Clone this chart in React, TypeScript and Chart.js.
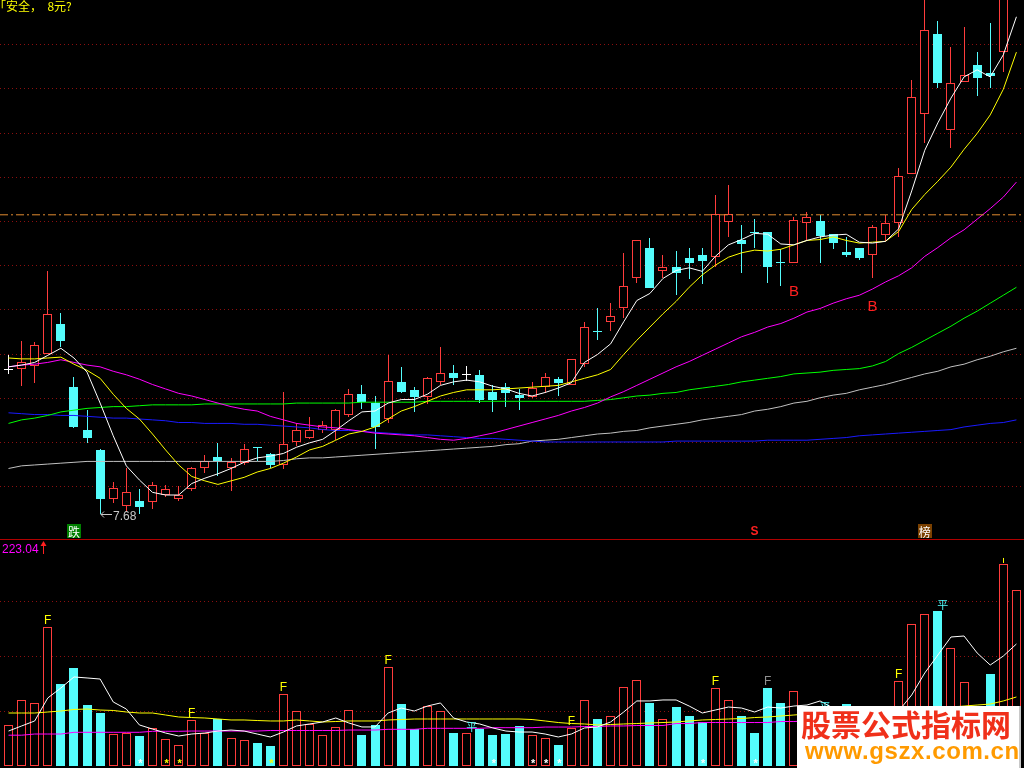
import React, { useEffect, useRef } from "react";
import { Chart, registerables } from "chart.js";

Chart.register(...registerables);

// ---------------- data ----------------
const opens = [
  9.31, 9.33, 9.36, 9.50, 9.83, 9.12, 8.63, 8.41, 7.85, 7.77,
  7.83, 7.82, 7.90, 7.85, 7.97, 8.21, 8.33, 8.21, 8.26, 8.44,
  8.36, 8.24, 8.50, 8.55, 8.64, 8.64, 8.80, 9.04, 8.94, 8.76,
  9.18, 9.09, 9.01, 9.18, 9.28, 9.26, 9.26, 9.07, 9.12, 9.03,
  9.01, 9.12, 9.21, 9.15, 9.38, 9.75, 9.86, 10.01, 10.35, 10.69,
  10.43, 10.48, 10.58, 10.62, 10.59, 10.99, 10.79, 10.88, 10.87, 10.53,
  10.53, 10.98, 11.00, 10.85, 10.65, 10.69, 10.62, 10.84, 10.98, 11.53,
  12.21, 13.11, 12.03, 12.57, 12.76, 12.67, 12.91, 14.30,
];
const highs = [
  9.48, 9.64, 9.63, 10.43, 9.96, 9.23, 8.86, 8.42, 8.05, 8.20,
  7.97, 8.05, 8.01, 8.00, 8.22, 8.35, 8.49, 8.32, 8.48, 8.44,
  8.38, 9.07, 8.71, 8.78, 8.74, 8.87, 9.10, 9.14, 9.02, 9.48,
  9.35, 9.12, 9.24, 9.57, 9.37, 9.36, 9.31, 9.14, 9.17, 9.10,
  9.18, 9.28, 9.23, 9.44, 9.86, 10.01, 10.07, 10.64, 10.78, 10.81,
  10.61, 10.66, 10.69, 10.69, 11.29, 11.41, 10.95, 11.02, 10.88, 10.68,
  11.04, 11.10, 11.07, 10.85, 10.82, 10.69, 10.96, 11.07, 11.60, 12.60,
  13.60, 13.26, 12.97, 13.20, 12.91, 13.24, 13.90, 15.20,
];
const lows = [
  9.27, 9.13, 9.17, 9.49, 9.57, 8.66, 8.49, 7.68, 7.81, 7.71,
  7.69, 7.74, 7.88, 7.83, 7.94, 8.15, 8.12, 7.94, 8.24, 8.28,
  8.21, 8.19, 8.46, 8.53, 8.60, 8.52, 8.78, 8.87, 8.42, 8.71,
  9.05, 8.84, 8.93, 9.15, 9.14, 9.19, 8.94, 8.84, 8.90, 8.86,
  9.00, 9.05, 9.02, 9.14, 9.35, 9.65, 9.76, 9.90, 10.30, 10.24,
  10.35, 10.16, 10.34, 10.29, 10.48, 10.82, 10.41, 10.70, 10.30, 10.26,
  10.53, 10.78, 10.52, 10.68, 10.59, 10.56, 10.36, 10.77, 10.82, 11.53,
  11.88, 12.51, 11.83, 12.57, 12.41, 12.51, 12.69, 13.95,
];
const closes = [
  9.31, 9.41, 9.60, 9.95, 9.64, 8.67, 8.55, 7.85, 7.98, 7.93,
  7.76, 8.01, 7.97, 7.90, 8.21, 8.29, 8.28, 8.27, 8.42, 8.43,
  8.24, 8.48, 8.63, 8.64, 8.69, 8.86, 9.04, 8.95, 8.67, 9.19,
  9.06, 9.01, 9.22, 9.28, 9.22, 9.26, 8.98, 8.98, 9.05, 9.00,
  9.11, 9.23, 9.17, 9.44, 9.80, 9.74, 9.92, 10.27, 10.78, 10.24,
  10.48, 10.41, 10.52, 10.55, 11.08, 11.08, 10.74, 10.86, 10.48, 10.52,
  11.01, 11.04, 10.83, 10.75, 10.62, 10.58, 10.93, 10.98, 11.51, 12.40,
  13.16, 12.56, 12.56, 12.65, 12.62, 12.64, 13.90, 14.74,
];
const ma5 = [
  9.35, 9.37, 9.40, 9.48, 9.56, 9.45, 9.29, 8.94, 8.57, 8.23,
  8.07, 7.93, 7.90, 7.90, 8.03, 8.09, 8.14, 8.20, 8.27, 8.32,
  8.34, 8.37, 8.44, 8.49, 8.53, 8.63, 8.74, 8.84, 8.85, 8.94,
  8.98, 8.98, 9.04, 9.14, 9.18, 9.20, 9.18, 9.13, 9.10, 9.05,
  9.02, 9.06, 9.11, 9.17, 9.40, 9.49, 9.61, 9.86, 10.10, 10.18,
  10.35, 10.44, 10.47, 10.43, 10.60, 10.73, 10.79, 10.86, 10.85, 10.74,
  10.73, 10.78, 10.82, 10.84, 10.85, 10.76, 10.75, 10.77, 10.91, 11.34,
  11.80, 12.11, 12.39, 12.63, 12.71, 12.63, 12.88, 13.31,
];
const ma10 = [
  9.45, 9.44, 9.44, 9.45, 9.46, 9.38, 9.31, 9.22, 9.04, 8.88,
  8.76, 8.59, 8.41, 8.24, 8.11, 8.06, 8.02, 8.06, 8.10, 8.16,
  8.20, 8.26, 8.33, 8.41, 8.45, 8.52, 8.59, 8.62, 8.67, 8.76,
  8.85, 8.90, 8.96, 9.02, 9.06, 9.09, 9.09, 9.09, 9.10, 9.11,
  9.12, 9.13, 9.14, 9.18, 9.22, 9.26, 9.32, 9.49, 9.65, 9.80,
  9.95, 10.09, 10.25, 10.39, 10.50, 10.59, 10.64, 10.67, 10.66, 10.68,
  10.73, 10.78, 10.79, 10.82, 10.78, 10.75, 10.76, 10.77, 10.88, 11.13,
  11.30, 11.45, 11.61, 11.81, 11.99, 12.20, 12.49, 12.91,
];
const ma20 = [
  9.35, 9.37, 9.38, 9.40, 9.43, 9.40, 9.37, 9.35, 9.30, 9.26,
  9.21, 9.15, 9.10, 9.05, 9.02, 8.98, 8.94, 8.90, 8.87, 8.85,
  8.79, 8.75, 8.71, 8.69, 8.67, 8.66, 8.64, 8.62, 8.60, 8.59,
  8.58, 8.57, 8.55, 8.53, 8.52, 8.54, 8.57, 8.60, 8.64, 8.68,
  8.72, 8.76, 8.80, 8.85, 8.89, 8.94, 9.01, 9.07, 9.14, 9.21,
  9.28, 9.35, 9.41, 9.48, 9.55, 9.62, 9.69, 9.74, 9.80, 9.84,
  9.90, 9.97, 10.01, 10.07, 10.12, 10.16, 10.23, 10.31, 10.38, 10.47,
  10.60, 10.70, 10.81, 10.90, 11.02, 11.14, 11.27, 11.44,
];
const ma60 = [
  8.71, 8.75, 8.77, 8.80, 8.84, 8.86, 8.88, 8.89, 8.90, 8.90,
  8.91, 8.92, 8.92, 8.92, 8.92, 8.93, 8.93, 8.93, 8.93, 8.93,
  8.93, 8.93, 8.94, 8.94, 8.94, 8.94, 8.94, 8.95, 8.95, 8.95,
  8.95, 8.95, 8.96, 8.96, 8.96, 8.96, 8.96, 8.96, 8.96, 8.96,
  8.96, 8.96, 8.96, 8.96, 8.96, 8.97, 8.98, 9.00, 9.02, 9.03,
  9.05, 9.06, 9.09, 9.11, 9.13, 9.15, 9.18, 9.20, 9.22, 9.24,
  9.27, 9.28, 9.29, 9.31, 9.32, 9.33, 9.36, 9.41, 9.50, 9.57,
  9.65, 9.73, 9.81, 9.90, 9.98, 10.07, 10.16, 10.25,
];
const maBlue = [
  8.83, 8.82, 8.81, 8.81, 8.80, 8.80, 8.79, 8.78, 8.77, 8.77,
  8.76, 8.75, 8.74, 8.72, 8.72, 8.71, 8.71, 8.71, 8.70, 8.70,
  8.69, 8.68, 8.67, 8.66, 8.64, 8.63, 8.63, 8.62, 8.61, 8.60,
  8.59, 8.58, 8.58, 8.57, 8.56, 8.55, 8.54, 8.54, 8.53, 8.52,
  8.51, 8.50, 8.50, 8.50, 8.50, 8.50, 8.50, 8.50, 8.50, 8.50,
  8.50, 8.51, 8.51, 8.51, 8.51, 8.51, 8.51, 8.51, 8.52, 8.52,
  8.52, 8.52, 8.53, 8.54, 8.55, 8.57, 8.58, 8.59, 8.60, 8.61,
  8.62, 8.63, 8.64, 8.67, 8.69, 8.71, 8.72, 8.75,
];
const maGray = [
  8.20, 8.23, 8.24, 8.25, 8.26, 8.27, 8.28, 8.28, 8.28, 8.28,
  8.28, 8.28, 8.28, 8.28, 8.28, 8.28, 8.28, 8.28, 8.28, 8.28,
  8.28, 8.29, 8.31, 8.32, 8.32, 8.33, 8.34, 8.35, 8.36, 8.37,
  8.38, 8.39, 8.40, 8.41, 8.42, 8.43, 8.44, 8.45, 8.47, 8.48,
  8.51, 8.52, 8.53, 8.55, 8.57, 8.59, 8.60, 8.62, 8.63, 8.66,
  8.68, 8.70, 8.72, 8.75, 8.77, 8.79, 8.81, 8.85, 8.87, 8.90,
  8.94, 8.96, 9.00, 9.03, 9.05, 9.09, 9.12, 9.15, 9.19, 9.23,
  9.27, 9.30, 9.35, 9.38, 9.43, 9.47, 9.52, 9.56,
];
const volumes = [
  44.9, 72.5, 69.2, 153.5, 90.5, 108.2, 67.3, 58.5, 35.3, 36.1,
  33.1, 41.6, 29.5, 22.9, 50.8, 36.1, 52.2, 30.6, 28.4, 25.4,
  22.1, 79.5, 60.4, 46.4, 33.9, 42.8, 61.5, 34.2, 45.3, 109.0,
  68.4, 40.8, 66.2, 60.4, 36.4, 36.1, 40.8, 34.2, 35.7, 44.2,
  33.9, 30.6, 23.2, 42.3, 72.5, 51.9, 54.9, 86.9, 94.6, 69.6,
  51.6, 65.1, 55.2, 48.6, 85.8, 72.5, 55.2, 36.4, 86.1, 69.6,
  82.5, 62.0, 59.0, 45.0, 68.0, 47.0, 65.0, 30.0, 93.8, 156.4,
  167.8, 171.5, 130.3, 92.7, 62.0, 101.9, 223.04, 194.3,
];
const volMa5 = [
  38.6, 44.2, 49.7, 75.1, 86.1, 98.3, 97.2, 96.0, 70.7, 62.9,
  45.3, 40.8, 36.4, 33.1, 35.3, 36.4, 38.6, 39.7, 38.6, 35.3,
  32.0, 37.5, 44.2, 46.4, 48.6, 53.0, 47.5, 43.1, 43.1, 58.5,
  64.0, 60.7, 66.2, 69.6, 53.0, 48.6, 46.4, 42.0, 38.6, 37.5,
  37.5, 35.3, 32.0, 35.3, 42.0, 43.1, 48.6, 59.6, 71.8, 71.8,
  72.9, 72.9, 66.2, 58.5, 61.8, 65.1, 64.0, 59.6, 65.1, 64.0,
  66.2, 67.3, 71.8, 64.0, 62.9, 56.3, 57.4, 50.8, 60.7, 78.4,
  102.7, 122.5, 142.4, 143.5, 124.8, 111.5, 121.4, 134.7,
];
const volMaYellow = [
  58.5, 58.5, 58.5, 59.6, 60.7, 62.4, 62.9, 61.8, 61.3, 59.6,
  58.5, 58.5, 56.3, 54.1, 53.5, 53.0, 51.9, 50.8, 50.8, 50.2,
  49.7, 49.7, 50.8, 49.7, 48.6, 49.1, 49.7, 49.7, 49.7, 50.8,
  51.3, 51.9, 51.9, 51.9, 51.9, 51.9, 51.9, 51.9, 51.9, 51.9,
  51.3, 49.7, 48.0, 46.9, 46.4, 45.3, 45.8, 46.4, 46.9, 47.5,
  48.0, 48.6, 49.7, 50.8, 51.3, 51.9, 52.4, 53.5, 54.1, 55.2,
  56.3, 57.4, 58.5, 59.6, 59.6, 60.7, 60.7, 61.8, 61.8, 62.9,
  64.0, 64.0, 65.1, 66.2, 67.3, 68.4, 71.8, 76.2,
];
const volMaMagenta = [
  34.0, 34.0, 35.3, 35.3, 35.3, 37.2, 37.2, 37.2, 37.2, 37.2,
  37.2, 38.3, 38.3, 38.3, 38.6, 38.6, 38.6, 38.6, 38.6, 38.6,
  39.2, 39.2, 39.2, 39.2, 39.2, 39.2, 39.7, 39.7, 39.7, 40.5,
  40.5, 40.5, 41.6, 41.6, 41.6, 41.6, 41.6, 42.3, 42.3, 42.3,
  42.3, 43.0, 43.0, 43.0, 43.6, 43.6, 44.2, 44.2, 44.7, 44.7,
  44.7, 46.9, 46.9, 48.0, 48.0, 48.0, 48.0, 48.0, 48.0, 49.1,
  49.1, 49.7, 50.2, 50.2, 50.8, 50.8, 51.3, 51.9, 52.4, 52.4,
  53.0, 53.5, 53.5, 54.1, 54.1, 54.6, 55.2, 55.2,
];
const priceGridTicks = [8, 8.5, 9, 9.5, 10, 10.5, 11, 11.5, 12, 12.5, 13];
const volumeGridTicks = [60.7, 121.4, 182.2];
const levelLine = 11.07;
const titleText = "｢安全，\u00a0\u00a08元?";
const lowestIndex = 7;
const volumeMaxLabel = "223.04";
const buySignals = [60, 66];
const fSignals = [3, 14, 21, 29, 43, 54, 68];
const fGraySignals = [58];
const flatSignals = [35, 62, 71];
const whiteStars = [10, 37, 40, 41, 42, 53, 57];
const yellowStars = [12, 13, 20];
const peakTicks = [76];
const bottomTags = [
  { index: 5, text: "跌", bg: "#008000", color: "#ffffff" },
  { index: 57, text: "S", bg: "", color: "#ff2020" },
  { index: 70, text: "榜", bg: "#7a4000", color: "#ffffff" },
];

// ---------------- styling / layout constants ----------------
const RED = "#ff3c3c";
const CYAN = "#54fcfc";
const WHITE = "#ffffff";
const GRID = "#8c0f0f";
const SEP = "#b00000";
const X_MIN = -0.65;
const X_MAX = 77.58;
const PRICE_MIN = 7.391;
const PRICE_MAX = 13.5;
const VOL_MIN = -2.21;
const VOL_MAX = 249.5;

const dayIndex = opens.map((_, i) => i);
const candleColor = (i: number) =>
  closes[i] > opens[i] ? RED : closes[i] < opens[i] ? CYAN : WHITE;
const isUp = (i: number) => closes[i] > opens[i];
const volColor = (i: number) => (closes[i] >= opens[i] ? RED : CYAN);

const pts = (arr: number[]) => dayIndex.map((i) => ({ x: i, y: arr[i] }));
const lineDs = (label: string, arr: number[], color: string) => ({
  type: "line" as const,
  label,
  data: pts(arr),
  borderColor: color,
  borderWidth: 1,
  pointRadius: 0,
  tension: 0,
  order: 1,
});

const baseOptions = (yMin: number, yMax: number) => ({
  responsive: false,
  animation: false as const,
  devicePixelRatio: 1,
  events: [] as any[],
  layout: { padding: 0 },
  plugins: { legend: { display: false }, tooltip: { enabled: false } },
  scales: {
    x: { type: "linear" as const, min: X_MIN, max: X_MAX, display: false, offset: false },
    y: { type: "linear" as const, min: yMin, max: yMax, display: false },
  },
});

// snap bar elements (positions computed by the scales) to whole pixels
const snapBars = (chart: any) => {
  chart.data.datasets.forEach((ds: any, di: number) => {
    if (ds.type !== "bar") return;
    const meta = chart.getDatasetMeta(di);
    meta.data.forEach((el: any) => {
      el.x = Math.floor(el.x) + 0.5;
      let y = Math.round(el.y);
      let base = Math.round(el.base);
      if (Math.abs(y - base) < 1) base = y + 1;
      el.y = y;
      el.base = base;
    });
  });
};

const drawGrid = (chart: any, ticks: number[]) => {
  const { ctx, chartArea, scales } = chart;
  ctx.save();
  ctx.strokeStyle = GRID;
  ctx.lineWidth = 1;
  ctx.setLineDash([1, 3]);
  ticks.forEach((t) => {
    const y = Math.round(scales.y.getPixelForValue(t)) + 0.5;
    ctx.beginPath();
    ctx.moveTo(chartArea.left, y);
    ctx.lineTo(chartArea.right, y);
    ctx.stroke();
  });
  ctx.restore();
};

const priceDecor = {
  id: "priceDecor",
  beforeDatasetsDraw(chart: any) {
    snapBars(chart);
    drawGrid(chart, priceGridTicks);
  },
  afterDatasetsDraw(chart: any) {
    const { ctx, chartArea, scales } = chart;
    const xs = scales.x;
    const ys = scales.y;
    ctx.save();
    // buy signals
    ctx.font = '15px "Liberation Sans"';
    ctx.fillStyle = "#ff2020";
    ctx.textAlign = "center";
    ctx.textBaseline = "alphabetic";
    buySignals.forEach((i) =>
      ctx.fillText("B", xs.getPixelForValue(i), ys.getPixelForValue(lows[i]) + 33)
    );
    // lowest price label
    const lx = Math.round(xs.getPixelForValue(lowestIndex));
    const ly = Math.round(ys.getPixelForValue(lows[lowestIndex])) + 0.5;
    ctx.strokeStyle = "#c8c8c8";
    ctx.lineWidth = 1;
    ctx.beginPath();
    ctx.moveTo(lx + 1, ly);
    ctx.lineTo(lx + 12, ly);
    ctx.moveTo(lx + 1, ly);
    ctx.lineTo(lx + 4, ly - 3);
    ctx.moveTo(lx + 1, ly);
    ctx.lineTo(lx + 4, ly + 3);
    ctx.stroke();
    ctx.fillStyle = "#c8c8c8";
    ctx.font = '12px "Liberation Sans"';
    ctx.textAlign = "left";
    ctx.fillText(lows[lowestIndex].toFixed(2), lx + 13, ly + 5);
    // bottom tags
    bottomTags.forEach((tag) => {
      const x = xs.getPixelForValue(tag.index);
      const bottom = chartArea.bottom - 2;
      if (tag.bg) {
        ctx.fillStyle = tag.bg;
        ctx.fillRect(Math.round(x - 7), bottom - 14, 14, 14);
      }
      ctx.fillStyle = tag.color;
      ctx.font = tag.bg ? '12px "Noto Sans CJK SC"' : 'bold 12px "Liberation Sans"';
      ctx.textAlign = "center";
      ctx.textBaseline = "middle";
      ctx.fillText(tag.text, x, bottom - 6);
    });
    // separator
    ctx.fillStyle = SEP;
    ctx.fillRect(chartArea.left, chartArea.bottom - 1, chartArea.right - chartArea.left, 1);
    ctx.restore();
  },
};

const volumeDecor = {
  id: "volumeDecor",
  beforeDatasetsDraw(chart: any) {
    snapBars(chart);
    drawGrid(chart, volumeGridTicks);
  },
  afterDatasetsDraw(chart: any) {
    const { ctx, chartArea, scales } = chart;
    const xs = scales.x;
    const ys = scales.y;
    ctx.save();
    // max label
    ctx.font = '12px "Liberation Sans"';
    ctx.fillStyle = "#ff00ff";
    ctx.textAlign = "left";
    ctx.textBaseline = "alphabetic";
    ctx.fillText(volumeMaxLabel, 2, 13);
    ctx.strokeStyle = "#ff2020";
    ctx.fillStyle = "#ff2020";
    ctx.lineWidth = 1;
    ctx.beginPath();
    ctx.moveTo(43.5, 3);
    ctx.lineTo(43.5, 14);
    ctx.stroke();
    ctx.beginPath();
    ctx.moveTo(43.5, 1);
    ctx.lineTo(46.5, 6);
    ctx.lineTo(40.5, 6);
    ctx.closePath();
    ctx.fill();
    // F signals
    ctx.font = '12px "Liberation Sans"';
    ctx.textAlign = "center";
    const drawF = (i: number, color: string) => {
      ctx.fillStyle = color;
      ctx.fillText("F", xs.getPixelForValue(i), ys.getPixelForValue(volumes[i]) - 3);
    };
    fSignals.forEach((i) => drawF(i, "#ffff00"));
    fGraySignals.forEach((i) => drawF(i, "#909090"));
    // flat signals
    ctx.font = '11px "Noto Sans CJK SC"';
    ctx.fillStyle = CYAN;
    flatSignals.forEach((i) =>
      ctx.fillText("平", xs.getPixelForValue(i) + 5, ys.getPixelForValue(volumes[i]) - 2)
    );
    // stars
    ctx.font = 'bold 11px "Liberation Sans"';
    const drawStar = (i: number, color: string) => {
      ctx.fillStyle = color;
      ctx.fillText("*", xs.getPixelForValue(i) + 1, chartArea.bottom - 1);
    };
    whiteStars.forEach((i) => drawStar(i, "#ffffff"));
    yellowStars.forEach((i) => drawStar(i, "#ffff00"));
    // peak tick
    ctx.strokeStyle = "#ffff00";
    peakTicks.forEach((i) => {
      const x = Math.round(xs.getPixelForValue(i)) + 0.5;
      const y = ys.getPixelForValue(volumes[i]);
      ctx.beginPath();
      ctx.moveTo(x, y - 6);
      ctx.lineTo(x, y - 1);
      ctx.stroke();
    });
    ctx.restore();
  },
};

const priceConfig = (): any => ({
  type: "bar",
  data: {
    datasets: [
      lineDs("MA5", ma5, "#ffffff"),
      lineDs("MA10", ma10, "#ffff00"),
      lineDs("MA20", ma20, "#ff00ff"),
      lineDs("MA60", ma60, "#00ff00"),
      lineDs("MA-blue", maBlue, "#1a1aff"),
      lineDs("MA-gray", maGray, "#c0c0c0"),
      {
        type: "line",
        label: "level",
        data: [
          { x: X_MIN, y: levelLine },
          { x: X_MAX, y: levelLine },
        ],
        borderColor: "#e08a30",
        borderWidth: 1,
        borderDash: [8, 3, 2, 3],
        pointRadius: 0,
        order: 0,
      },
      {
        type: "bar",
        label: "body",
        data: dayIndex.map((i) => ({ x: i, y: [opens[i], closes[i]] })),
        barThickness: 9,
        minBarLength: 1,
        grouped: false,
        borderSkipped: false,
        inflateAmount: 0,
        backgroundColor: (c: any) => (isUp(c.dataIndex) ? "#000000" : candleColor(c.dataIndex)),
        borderColor: (c: any) => candleColor(c.dataIndex),
        borderWidth: (c: any) => (isUp(c.dataIndex) ? 1 : 0),
        order: 5,
      },
      {
        type: "bar",
        label: "wick",
        data: dayIndex.map((i) => ({ x: i, y: [lows[i], highs[i]] })),
        barThickness: 1,
        grouped: false,
        borderSkipped: false,
        inflateAmount: 0,
        backgroundColor: (c: any) => candleColor(c.dataIndex),
        borderWidth: 0,
        order: 6,
      },
    ],
  },
  options: baseOptions(PRICE_MIN, PRICE_MAX),
  plugins: [priceDecor],
});

const volumeConfig = (): any => ({
  type: "bar",
  data: {
    datasets: [
      lineDs("VMA5", volMa5, "#ffffff"),
      lineDs("VMA10", volMaYellow, "#ffff00"),
      lineDs("VMA20", volMaMagenta, "#ff00ff"),
      {
        type: "bar",
        label: "volume",
        data: dayIndex.map((i) => ({ x: i, y: [0, volumes[i]] })),
        barThickness: 9,
        grouped: false,
        borderSkipped: false,
        inflateAmount: 0,
        backgroundColor: (c: any) => (volColor(c.dataIndex) === RED ? "#000000" : CYAN),
        borderColor: (c: any) => volColor(c.dataIndex),
        borderWidth: (c: any) => (volColor(c.dataIndex) === RED ? 1 : 0),
        order: 5,
      },
    ],
  },
  options: baseOptions(VOL_MIN, VOL_MAX),
  plugins: [volumeDecor],
});

export default function App() {
  const priceRef = useRef<HTMLCanvasElement>(null);
  const volRef = useRef<HTMLCanvasElement>(null);

  useEffect(() => {
    const pc = new Chart(priceRef.current as HTMLCanvasElement, priceConfig());
    const vc = new Chart(volRef.current as HTMLCanvasElement, volumeConfig());
    return () => {
      pc.destroy();
      vc.destroy();
    };
  }, []);

  return (
    <div
      style={{
        position: "absolute",
        left: 0,
        top: 0,
        width: 1024,
        height: 768,
        background: "#000",
        overflow: "hidden",
      }}
    >
      <canvas
        ref={priceRef}
        width={1024}
        height={540}
        style={{ position: "absolute", left: 0, top: 0, width: 1024, height: 540 }}
      />
      <canvas
        ref={volRef}
        width={1024}
        height={228}
        style={{ position: "absolute", left: 0, top: 540, width: 1024, height: 228 }}
      />
      <div
        style={{
          position: "absolute",
          left: 0,
          top: -1,
          color: "#ffff00",
          font: '12px "Noto Sans CJK SC"',
          lineHeight: "13px",
          whiteSpace: "nowrap",
        }}
      >
        {titleText}
      </div>
      <div
        style={{
          position: "absolute",
          left: 797,
          top: 706,
          width: 222,
          height: 62,
          background: "#ffffff",
          boxShadow: "2px 0 0 #c8c8c8",
          overflow: "hidden",
        }}
      >
        <div
          style={{
            position: "absolute",
            left: 4,
            top: 0,
            color: "#f0301a",
            font: 'bold 30px "Noto Sans CJK SC"',
            lineHeight: "34px",
            whiteSpace: "nowrap",
          }}
        >
          股票公式指标网
        </div>
        <div
          style={{
            position: "absolute",
            left: 8,
            top: 31,
            color: "#ff9a00",
            font: 'bold 24px "Liberation Sans"',
            lineHeight: "28px",
            letterSpacing: "0.6px",
            whiteSpace: "nowrap",
          }}
        >
          www.gszx.com.cn
        </div>
      </div>
    </div>
  );
}
